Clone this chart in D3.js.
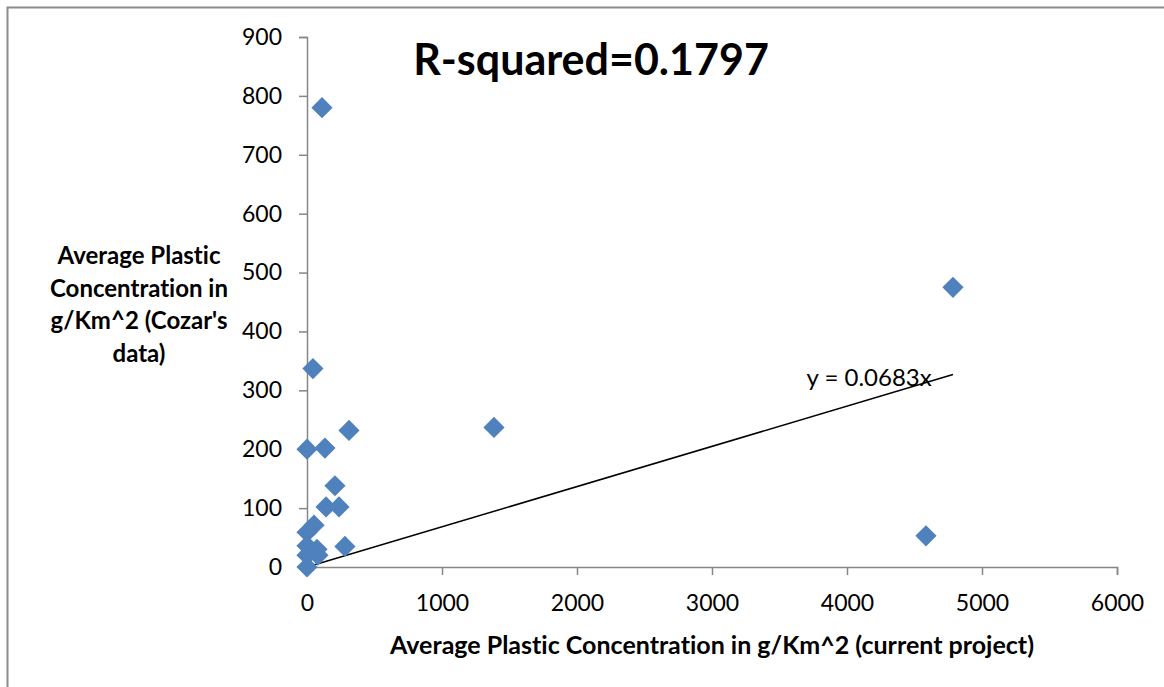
<!DOCTYPE html>
<html>
<head>
<meta charset="utf-8">
<script src="https://cdn.jsdelivr.net/npm/d3@7"></script>
<style>
  body { margin: 0; background: #fff; }
  svg { font-family: Lato, "Open Sans", sans-serif; font-variant-ligatures: none; }
</style>
</head>
<body>
<div id="chart"></div>
<script>
const currentProject = [111, 4785, 44, 1385, 311, 0, 133, 207, 141, 237, 52, 0, 281, 4585, 0, 74, 0, 81, 0];
const cozarData = [780, 475, 337, 237, 232, 200, 202, 138, 102, 102, 71, 59, 35, 53, 36, 30, 20, 20, 0];
const xTicks = [0, 1000, 2000, 3000, 4000, 5000, 6000];
const yTicks = [0, 100, 200, 300, 400, 500, 600, 700, 800, 900];
const slope = 0.0683;
const rSquared = '0.1797';
const yTitleLines = ['Average Plastic', 'Concentration in', "g/Km^2 (Cozar's", 'data)'];

const width = 1164, height = 687;
const plot = { left: 307, right: 1117, top: 37, bottom: 567 };

const svg = d3.select('#chart').append('svg')
  .attr('width', width)
  .attr('height', height);

// outer chart frame
svg.append('rect')
  .attr('x', 7.5).attr('y', 7.5)
  .attr('width', width + 20).attr('height', height + 20)
  .attr('fill', 'none')
  .attr('stroke', '#8c8c8c')
  .attr('stroke-width', 2);

const x = d3.scaleLinear().domain([0, 6000]).range([plot.left, plot.right]);
const y = d3.scaleLinear().domain([0, 900]).range([plot.bottom, plot.top]);

const xAxis = svg.append('g')
  .attr('transform', `translate(0,${plot.bottom})`)
  .call(d3.axisBottom(x).tickValues(xTicks).tickSize(8).tickPadding(20).tickFormat(d3.format('d')));

const yAxis = svg.append('g')
  .attr('transform', `translate(${plot.left},0)`)
  .call(d3.axisLeft(y).tickValues(yTicks).tickSize(8).tickPadding(17).tickFormat(d3.format('d')));

[xAxis, yAxis].forEach(g => {
  g.select('.domain').attr('stroke', '#868686').attr('stroke-width', 1.5);
  g.selectAll('.tick line').attr('stroke', '#868686').attr('stroke-width', 1.5);
  g.selectAll('.tick text')
    .attr('fill', '#000')
    .style('font-size', '23px')
    .style('font-family', 'Lato, "Open Sans", sans-serif');
});

// trendline through origin
const xMax = d3.max(currentProject);
svg.append('line')
  .attr('x1', x(0)).attr('y1', y(0))
  .attr('x2', x(xMax)).attr('y2', y(slope * xMax))
  .attr('stroke', '#000')
  .attr('stroke-width', 1.5);

// points
const diamond = d3.symbol().type(d3.symbolSquare).size(15 * 15);
svg.append('g').selectAll('path')
  .data(currentProject.map((d, i) => ({ x: d, y: cozarData[i] })))
  .enter()
  .append('path')
  .attr('d', diamond)
  .attr('transform', d => `translate(${x(d.x)},${y(d.y)}) rotate(45)`)
  .attr('fill', '#4f81bd');

svg.append('text')
  .attr('x', x(3700))
  .attr('y', 386)
  .style('font-size', '24px')
  .text(`y = ${slope}x`);

svg.append('text')
  .attr('x', 591)
  .attr('y', 75)
  .attr('text-anchor', 'middle')
  .style('font-size', '43px')
  .style('font-weight', 'bold')
  .text(`R-squared=${rSquared}`);

svg.append('text')
  .attr('x', 712)
  .attr('y', 654)
  .attr('text-anchor', 'middle')
  .style('font-size', '25px')
  .style('font-weight', 'bold')
  .text('Average Plastic Concentration in g/Km^2 (current project)');

svg.append('g').selectAll('text')
  .data(yTitleLines)
  .enter()
  .append('text')
  .attr('x', 139)
  .attr('y', (d, i) => 264 + i * 32.5)
  .attr('text-anchor', 'middle')
  .style('font-size', '24px')
  .style('font-weight', 'bold')
  .text(d => d);
</script>
</body>
</html>
